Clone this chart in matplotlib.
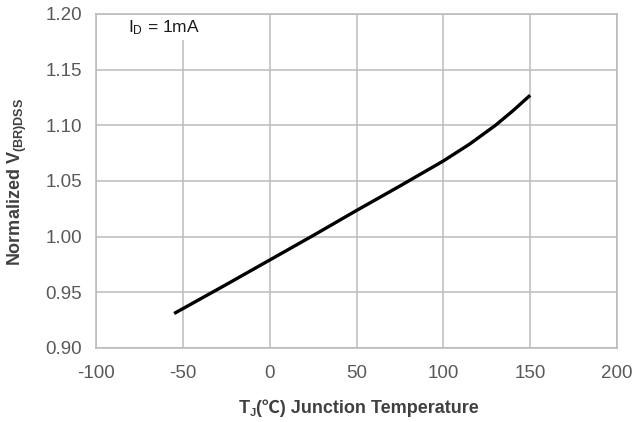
import matplotlib
matplotlib.use('Agg')
import matplotlib.pyplot as plt
from matplotlib.transforms import IdentityTransform

plt.rcParams['mathtext.fontset'] = 'custom'
plt.rcParams['mathtext.rm'] = 'Liberation Sans'
plt.rcParams['mathtext.bf'] = 'Liberation Sans:bold'
plt.rcParams['mathtext.it'] = 'Liberation Sans:italic'
plt.rcParams['font.family'] = ['Liberation Sans', 'DejaVu Sans']
plt.rcParams['axes.unicode_minus'] = False

# data
temp = [-55, -25, 0, 25, 50, 75, 100, 115, 130, 140, 150]
vbr = [0.931, 0.957, 0.979, 1.001, 1.0235, 1.0455, 1.068, 1.083, 1.100, 1.113, 1.127]
xticks = [-100, -50, 0, 50, 100, 150, 200]
yticks = [0.90, 0.95, 1.00, 1.05, 1.10, 1.15, 1.20]
ytick_labels = ['0.90', '0.95', '1.00', '1.05', '1.10', '1.15', '1.20']

W, H = 638, 422
fig = plt.figure(figsize=(W / 100, H / 100), dpi=100)
ax = fig.add_axes([96 / W, 1 - 348 / H, (617 - 96) / W, (348 - 14) / H])
ax.plot(temp, vbr, color='black', lw=2.4, solid_capstyle='butt',
        solid_joinstyle='round', zorder=3)
ax.set_xlim(-100, 200)
ax.set_ylim(0.90, 1.20)
ax.set_xticks(xticks)
ax.set_yticks(yticks)
ax.set_yticklabels(ytick_labels)
ax.grid(True, color='#bcbcbc', lw=1.1)
ax.set_axisbelow(True)
for s in ax.spines.values():
    s.set_color('#bcbcbc')
    s.set_linewidth(1.2)
ax.tick_params(axis='both', length=0, labelsize=13.5, labelcolor='#595959')
ax.tick_params(axis='x', pad=12)
ax.tick_params(axis='y', pad=10)

# annotation with white background
ax.text(-81.6, 1.1838, r'I$_\mathrm{D}$ = 1mA', fontsize=12.5, color='#1a1a1a',
        ha='left', va='baseline', zorder=2.2,
        bbox=dict(facecolor='white', edgecolor='none', pad=2.5))

# y label
fig.text(17 / W, 1 - 181.5 / H, r'Normalized V$_{\mathbf{(BR)DSS}}$', rotation=90,
         ha='center', va='center', fontsize=13, fontweight='bold', color='#404040')

# x label composed of pieces
fig.canvas.draw()
r = fig.canvas.get_renderer()
pieces = [
    ('T', dict(fontsize=13, fontweight='bold'), 0),
    ('J', dict(fontsize=8, fontweight='bold'), -3),
    ('(℃) Junction Temperature', dict(fontsize=13, fontweight='bold',
                                      family=['Liberation Sans', 'Noto Sans CJK SC', 'DejaVu Sans']), 0),
]
texts = []
for s, kw, dy in pieces:
    t = fig.text(0, 0, s, ha='left', va='baseline', color='#404040', **kw)
    t.set_transform(IdentityTransform())
    texts.append((t, dy))
widths = [t.get_window_extent(r).width for t, _ in texts]
total = sum(widths)
x0 = 359 - total / 2
base = H - 413
for (t, dy), w in zip(texts, widths):
    t.set_position((x0, base + dy))
    x0 += w

fig.savefig('out.png', dpi=100)
